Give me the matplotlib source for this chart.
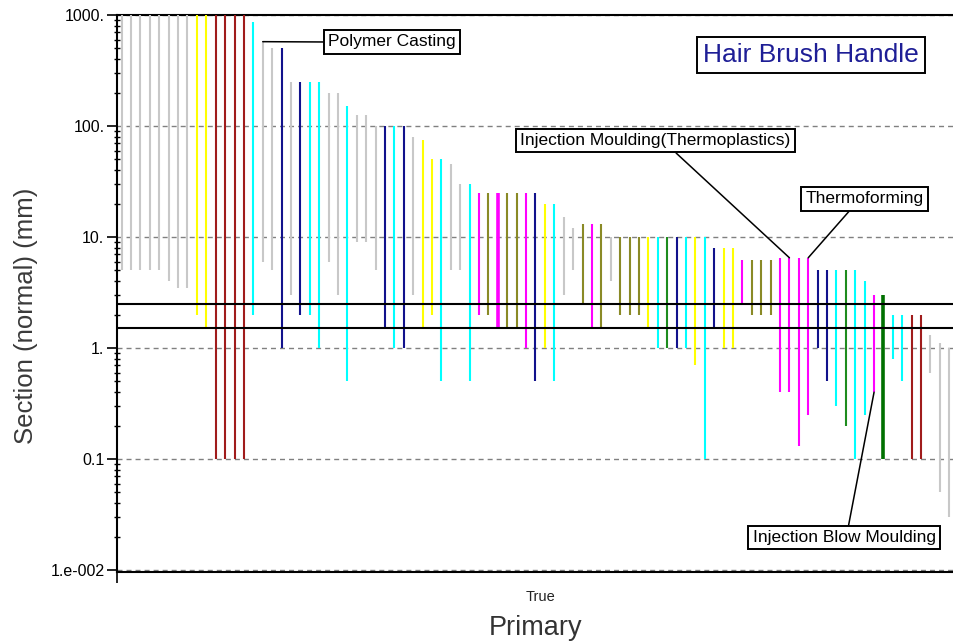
import matplotlib
matplotlib.use("Agg")
import matplotlib.pyplot as plt
import numpy as np

plt.rcParams["font.family"] = ["Liberation Sans", "DejaVu Sans"]

# -- Data: one vertical range per process (section thickness, mm) -------------
kinds = [
    "gray", "gray", "gray", "gray", "gray", "gray", "gray", "gray",
    "yellow", "yellow", "darkred", "darkred", "darkred", "darkred",
    "cyan", "gray", "gray", "navy", "gray", "navy", "cyan", "cyan",
    "gray", "gray", "cyan", "gray", "gray", "gray", "navy", "cyan", "navy",
    "gray", "yellow", "yellow", "cyan", "gray", "gray", "cyan",
    "magenta", "olive", "magenta", "olive", "olive", "magenta", "navy",
    "yellow", "cyan", "gray", "gray", "olive", "magenta", "olive", "gray",
    "olive", "olive", "olive", "yellow", "cyan", "green", "navy", "cyan",
    "yellow", "cyan", "navy", "yellow", "yellow", "magenta", "olive",
    "olive", "olive", "magenta", "magenta", "magenta", "magenta", "navy",
    "navy", "cyan", "green", "cyan", "cyan", "magenta", "green", "cyan",
    "cyan", "darkred", "darkred", "gray", "gray", "gray",
]
top_mm = [
    1000, 1000, 1000, 1000, 1000, 1000, 1000, 1000,
    1000, 1000, 1000, 1000, 1000, 1000,
    870, 575, 500, 500, 250, 250, 250, 250,
    200, 200, 150, 125, 125, 100, 100, 100, 100,
    80, 75, 50, 50, 45, 30, 30,
    25, 25, 25, 25, 25, 25, 25,
    20, 20, 15, 12, 13, 13, 13, 10,
    10, 10, 10, 10, 10, 10, 10, 10,
    10, 10, 8, 8, 8, 6.2, 6.2,
    6.2, 6.2, 6.5, 6.5, 6.5, 6.5, 5,
    5, 5, 5, 5, 4, 3, 3, 2,
    2, 2, 2, 1.3, 1.1, 1.0,
]
bottom_mm = [
    5, 5, 5, 5, 5, 4, 3.5, 3.5,
    2, 1.5, 0.1, 0.1, 0.1, 0.1,
    2, 6, 5, 1, 3, 2, 2, 1,
    6, 3, 0.5, 9, 9, 5, 1.5, 1, 1,
    3, 1.5, 2, 0.5, 5, 5, 0.5,
    2, 2, 1.5, 1.5, 1.5, 1, 0.5,
    1, 0.5, 3, 5, 2.5, 1.5, 1.5, 4,
    2, 2, 2, 1.5, 1, 1, 1, 1,
    0.7, 0.1, 1.5, 1, 1, 2.5, 2,
    2, 2, 0.4, 0.4, 0.13, 0.25, 1,
    0.5, 0.3, 0.2, 0.1, 0.25, 0.4, 0.1, 0.8,
    0.5, 0.1, 0.1, 0.6, 0.05, 0.03,
]
thick_bars = [40, 81]          # drawn with a heavier stroke
target_range = (1.5, 2.5)      # required section thickness band

y_ticks = [0.01, 0.1, 1, 10, 100, 1000]
y_tick_labels = ["1.e-002", "0.1", "1.", "10.", "100.", "1000."]

# (label, bar index, end of bar, text x, text y, leader attach)
callouts = [
    ("Polymer Casting", 15, "top", 0.3286, 0.9515, (0.0, 0.5)),
    ("Injection Moulding(Thermoplastics)", 71, "top", 0.6434, 0.7747, (0.556, 0.0)),
    ("Thermoforming", 73, "top", 0.8931, 0.6697, (0.405, 0.0)),
    ("Injection Blow Moulding", 80, "bottom", 0.8686, 0.0619, (0.52, 1.0)),
]

PALETTE = {
    "gray": "#C8C8C8",
    "yellow": "#FFFF00",
    "darkred": "#A01C1C",
    "cyan": "#00FFFF",
    "navy": "#12128C",
    "magenta": "#FF00FF",
    "olive": "#8A8A26",
    "green": "#1E8C1E",
}

fig = plt.figure(figsize=(9.54, 6.43), dpi=100, facecolor="white")
ax = fig.add_axes([0.1226, 0.1104, 0.8774, 0.8663])

x = np.arange(len(kinds))
colors = [PALETTE[k] for k in kinds]
widths = [2.6 if i in thick_bars else 1.5 for i in x]
colors[81] = "#007000"
ax.vlines(x, bottom_mm, top_mm, colors=colors, linewidths=widths, zorder=3)

for v in target_range:
    ax.axhline(v, color="black", linewidth=1.5, zorder=4)

ax.set_yscale("log")
ax.set_ylim(0.0096, 1000)
ax.set_xlim(-0.5, len(kinds) - 0.5)

ax.set_yticks(y_ticks)
ax.set_yticklabels(y_tick_labels)
ax.tick_params(axis="y", which="major", direction="out", length=7,
               width=1.2, labelsize=11.5, colors="black", pad=2)
ax.tick_params(axis="y", which="minor", direction="inout", length=5, width=1)
ax.yaxis.grid(True, which="major", color="#808080", linewidth=1,
              linestyle=(0, (3.6, 2.9)), zorder=1)
ax.set_axisbelow(True)

ax.set_xticks([44.5])
ax.set_xticklabels(["True"], fontsize=10.5, color="#222222")
ax.tick_params(axis="x", which="major", length=0, pad=13)
ax.set_xticks([-0.5], minor=True)
ax.tick_params(axis="x", which="minor", direction="out", length=8, width=1.2)

for side in ["top", "left", "bottom"]:
    ax.spines[side].set_linewidth(1.5)
    ax.spines[side].set_color("black")
ax.spines["right"].set_visible(False)

ax.set_ylabel("Section (normal) (mm)", fontsize=18.5, color="#3A3A3A")
ax.yaxis.set_label_coords(-0.094, 0.4596)
ax.set_xlabel("Primary", fontsize=19.5, color="#333333", labelpad=8)

box = dict(boxstyle="square,pad=0.25", facecolor="white",
           edgecolor="black", linewidth=1.4)
for label, idx, end, tx, ty, rel in callouts:
    yv = top_mm[idx] if end == "top" else bottom_mm[idx]
    ax.annotate(label, xy=(idx, yv), xycoords="data",
                xytext=(tx, ty), textcoords="axes fraction",
                ha="center", va="center", fontsize=12.5, color="black",
                bbox=box, zorder=6,
                arrowprops=dict(arrowstyle="-", color="black", linewidth=1.1,
                                relpos=rel, shrinkA=0, shrinkB=0))

ax.text(0.8292, 0.9282, "Hair Brush Handle", transform=ax.transAxes,
        ha="center", va="center", fontsize=19, color="#1E1E96", zorder=6,
        bbox=dict(boxstyle="square,pad=0.22", facecolor="white",
                  edgecolor="black", linewidth=1.4))

fig.savefig("out.png", dpi=100, facecolor="white")
